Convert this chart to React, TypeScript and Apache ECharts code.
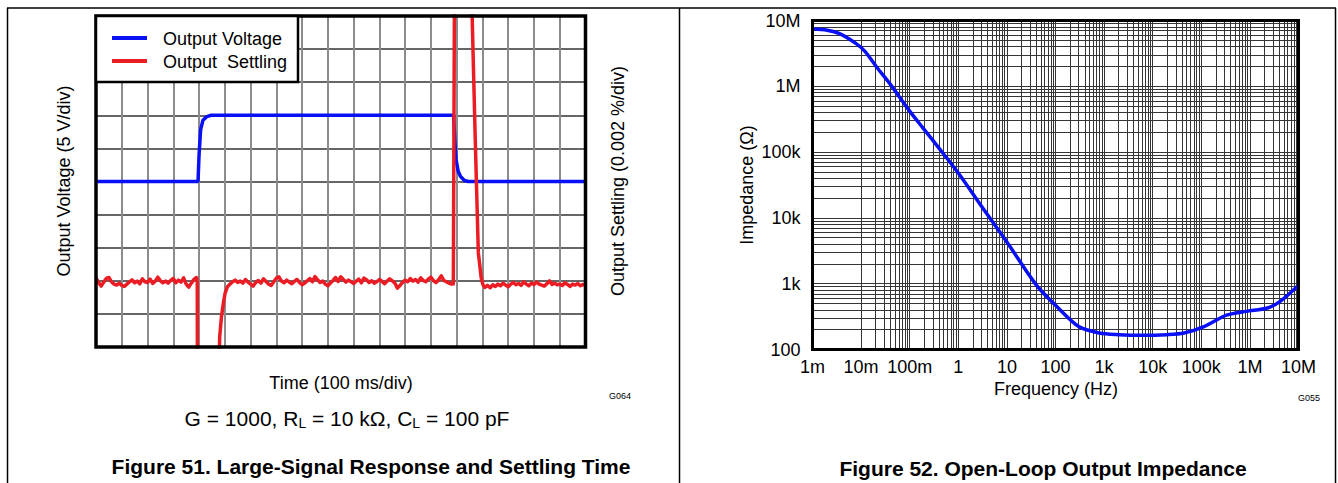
import React, { useEffect, useRef } from 'react';
import * as echarts from 'echarts';

const FONT = '"Liberation Sans", Arial, Helvetica, sans-serif';

// ---------- Figure 51 (values in screen divisions: x = 100 ms/div, y = 5 V/div or 0.002 %/div)
const voltageTime = [0, 3.96, 4.0, 4.06, 4.15, 4.3, 4.47, 13.88, 13.93, 13.98, 14.06, 14.15, 14.3, 14.45, 19];
const voltageDiv = [5, 5, 5.8, 6.56, 6.85, 6.96, 7, 7, 6.2, 5.65, 5.3, 5.15, 5.03, 5, 5];

const noiseStep = 0.1;
const settlingNoiseAStart = 0;
const settlingNoiseA = [2.08, 1.95, 1.84, 1.96, 2.07, 2.1, 1.97, 1.9, 1.87, 1.93, 1.86, 1.83, 1.9, 1.97, 2.03, 1.94, 1.99, 1.91, 2.06, 1.97, 1.95, 2.05, 1.92, 1.99, 2.11, 2.0, 1.94, 1.99, 1.93, 2.01, 2.07, 1.94, 2.02, 1.96, 2.09, 1.9, 1.81, 1.93, 2.04, 2.1];
const settlingDropTime = [3.93, 3.94, 4.74, 4.8, 4.87, 4.95, 5.01, 5.1];
const settlingDropDiv = [2.0, -2, -2, 0.3, 0.92, 1.35, 1.62, 1.82];
const settlingNoiseBStart = 5.2;
const settlingNoiseB = [1.9, 1.97, 2.02, 1.95, 1.99, 1.93, 2.04, 1.96, 1.9, 1.84, 1.95, 2.01, 1.93, 2.06, 1.98, 1.9, 1.86, 1.97, 2.08, 2.12, 1.99, 1.94, 2.02, 1.96, 1.91, 1.98, 2.04, 1.95, 1.88, 1.93, 2.0, 2.07, 1.97, 2.13, 2.03, 1.95, 1.99, 1.9, 1.85, 1.93, 2.01, 2.1, 1.98, 2.12, 2.04, 1.96, 2.02, 1.97, 1.92, 1.99, 2.05, 1.94, 2.08, 2.03, 1.95, 2.0, 1.93, 1.97, 2.04, 1.98, 1.91, 1.99, 2.06, 2.0, 1.93, 1.78, 1.86, 1.95, 2.02, 1.97, 2.07, 1.99, 2.04, 1.96, 2.09, 2.01, 1.97, 2.05, 2.11, 2.0, 1.95, 2.03, 2.15, 2.01, 1.97, 1.93, 1.9];
const settlingSpikeTime = [13.87, 13.92, 14.57, 14.6, 14.72, 14.84, 14.95, 15.02];
const settlingSpikeDiv = [1.9, 12, 12, 10, 6.3, 2.85, 2.1, 1.88];
const settlingNoiseCStart = 15.1;
const settlingNoiseC = [1.8, 1.86, 1.79, 1.88, 1.83, 1.9, 1.85, 1.93, 1.87, 1.82, 1.9, 1.95, 1.88, 1.92, 1.86, 1.97, 1.9, 1.85, 1.93, 1.89, 1.96, 1.9, 1.87, 1.84, 1.91, 2.0, 1.89, 1.93, 1.88, 1.9, 1.86, 1.94, 1.89, 1.83, 1.9, 1.87, 1.92, 1.85, 1.89, 1.86];

// ---------- Figure 52
const freqHz = [0.001, 0.002, 0.0036, 0.0079, 0.012, 0.021, 0.039, 0.1, 0.19, 0.4, 1, 3, 10, 40, 100, 300, 800, 2000, 5900, 20000, 44000, 117000, 320000, 850000, 2300000, 4200000, 10000000];
const impedanceOhm = [7400000, 7100000, 6300000, 4450000, 3400000, 1950000, 1100000, 420000, 230000, 115000, 48000, 15000, 4300, 960, 470, 223, 178, 168, 164, 168, 178, 225, 330, 380, 427, 540, 950];
const freqTickLabels = ['1m', '10m', '100m', '1', '10', '100', '1k', '10k', '100k', '1M', '10M'];
const impTickLabels = ['100', '1k', '10k', '100k', '1M', '10M'];

function noisePairs(start: number, vals: number[]) {
  return vals.map((v, i) => [+(start + i * noiseStep).toFixed(3), v]);
}

function buildOption() {
  const voltageData = voltageTime.map((t, i) => [t, voltageDiv[i]]);
  const settlingData = [
    ...noisePairs(settlingNoiseAStart, settlingNoiseA),
    ...settlingDropTime.map((t, i) => [t, settlingDropDiv[i]]),
    ...noisePairs(settlingNoiseBStart, settlingNoiseB),
    ...settlingSpikeTime.map((t, i) => [t, settlingSpikeDiv[i]]),
    ...noisePairs(settlingNoiseCStart, settlingNoiseC),
  ];
  const impData = freqHz.map((f, i) => [f, impedanceOhm[i]]);

  const xGrid: any[] = [];
  for (let e = -3; e <= 6; e++) for (let m = 1; m <= 9; m++) xGrid.push({ xAxis: m * Math.pow(10, e) });
  xGrid.push({ xAxis: 1e7 });
  const yGrid: any[] = [];
  for (let e = 2; e <= 6; e++) for (let m = 1; m <= 9; m++) yGrid.push({ yAxis: m * Math.pow(10, e) });
  yGrid.push({ yAxis: 1e7 });

  const txt = (x: number, y: number, text: string, size: number, extra: any = {}, rot = 0) => ({
    type: 'text', x, y, rotation: rot, z: 80,
    style: { text, fill: '#000', fontSize: size, fontFamily: FONT, align: 'center', verticalAlign: 'middle', ...extra },
  });
  const ln = (x1: number, y1: number, x2: number, y2: number, w = 1.5) => ({
    type: 'line', z: 80, shape: { x1, y1, x2, y2 }, style: { stroke: '#000', lineWidth: w },
  });

  return {
    animation: false,
    backgroundColor: '#fff',
    grid: [
      { left: 96, top: 16, width: 489.5, height: 331, containLabel: false, outerBoundsMode: 'none' },
      { left: 812.5, top: 20.5, width: 486, height: 329, containLabel: false, outerBoundsMode: 'none' },
    ],
    xAxis: [
      {
        gridIndex: 0, type: 'value', min: 0, max: 19, interval: 1,
        axisLine: { show: false }, axisTick: { show: false }, axisLabel: { show: false },
        splitLine: { show: true, lineStyle: { color: '#8c8c8c', width: 2 } },
      },
      {
        gridIndex: 1, type: 'log', logBase: 10, min: 0.001, max: 1e7, interval: 1,
        axisLine: { show: false }, axisTick: { show: false }, splitLine: { show: false },
        axisLabel: {
          show: true, margin: 8, color: '#000', fontSize: 18, fontFamily: FONT,
          formatter: (v: number) => freqTickLabels[Math.round(Math.log10(v)) + 3] ?? '',
        },
      },
    ],
    yAxis: [
      {
        gridIndex: 0, type: 'value', min: 0, max: 10, interval: 1,
        axisLine: { show: false }, axisTick: { show: false }, axisLabel: { show: false },
        splitLine: { show: true, lineStyle: { color: '#333', width: 1.5 } },
      },
      {
        gridIndex: 1, type: 'log', logBase: 10, min: 100, max: 1e7, interval: 1,
        axisLine: { show: false }, axisTick: { show: false }, splitLine: { show: false },
        axisLabel: {
          show: true, margin: 12, color: '#000', fontSize: 18, fontFamily: FONT,
          formatter: (v: number) => impTickLabels[Math.round(Math.log10(v)) - 2] ?? '',
        },
      },
    ],
    series: [
      {
        name: 'Output Voltage', type: 'line', xAxisIndex: 0, yAxisIndex: 0, data: voltageData,
        showSymbol: false, symbol: 'none', z: 5, clip: true,
        lineStyle: { color: '#0a10f5', width: 3.5 },
      },
      {
        name: 'Output Settling', type: 'line', xAxisIndex: 0, yAxisIndex: 0, data: settlingData,
        showSymbol: false, symbol: 'none', z: 6, clip: true,
        lineStyle: { color: '#ec1c24', width: 3.5, join: 'round' },
      },
      {
        name: 'grid', type: 'line', xAxisIndex: 1, yAxisIndex: 1, data: [], z: 1, silent: true,
        markLine: {
          silent: true, symbol: ['none', 'none'], label: { show: false },
          lineStyle: { color: '#353535', width: 1, type: 'solid' },
          data: [...xGrid, ...yGrid],
        },
      },
      {
        name: 'Impedance', type: 'line', xAxisIndex: 1, yAxisIndex: 1, data: impData,
        showSymbol: false, symbol: 'none', smooth: 0.3, z: 5, clip: true,
        lineStyle: { color: '#0a10f5', width: 3.5 },
      },
    ],
    graphic: [
      // page borders
      ln(7, 8, 1336, 8), ln(7.5, 8, 7.5, 483), ln(679.5, 8, 679.5, 483), ln(1335.5, 8, 1335.5, 483),
      // plot frames
      { type: 'rect', z: 70, shape: { x: 96, y: 16, width: 489.5, height: 331 }, style: { fill: 'none', stroke: '#000', lineWidth: 3.5 } },
      { type: 'rect', z: 70, shape: { x: 812.5, y: 20.5, width: 486, height: 329 }, style: { fill: 'none', stroke: '#000', lineWidth: 3 } },
      // legend
      { type: 'rect', z: 75, shape: { x: 96, y: 16, width: 202, height: 66 }, style: { fill: '#fff', stroke: '#000', lineWidth: 2.5 } },
      { type: 'line', z: 78, shape: { x1: 112, y1: 38, x2: 147, y2: 38 }, style: { stroke: '#0a10f5', lineWidth: 4 } },
      { type: 'line', z: 78, shape: { x1: 112, y1: 61, x2: 147, y2: 61 }, style: { stroke: '#ec1c24', lineWidth: 4 } },
      txt(163, 39, 'Output Voltage', 18, { align: 'left' }),
      txt(163, 62, 'Output  Settling', 18, { align: 'left' }),
      // left panel texts
      txt(64, 181, 'Output Voltage (5 V/div)', 18, {}, Math.PI / 2),
      txt(618, 181, 'Output Settling (0.002 %/div)', 18, {}, Math.PI / 2),
      txt(341, 383, 'Time (100 ms/div)', 18),
      txt(620, 396, 'G064', 9),
      {
        type: 'text', x: 347, y: 418, z: 80,
        style: {
          text: '{n|G = 1000, R}{s|L}{n| = 10 kΩ, C}{s|L}{n| = 100 pF}',
          align: 'center', verticalAlign: 'middle', fill: '#000',
          rich: {
            n: { fontSize: 21, fontFamily: FONT, lineHeight: 24, fill: '#000' },
            s: { fontSize: 14, fontFamily: FONT, lineHeight: 11, verticalAlign: 'bottom', fill: '#000' },
          },
        },
      },
      txt(371, 466, 'Figure 51. Large-Signal Response and Settling Time', 21, { fontWeight: 'bold' }),
      // right panel texts
      txt(747, 185, 'Impedance (Ω)', 18, {}, Math.PI / 2),
      txt(1056, 389, 'Frequency (Hz)', 18),
      txt(1309, 398, 'G055', 9),
      txt(1043, 468, 'Figure 52. Open-Loop Output Impedance', 21, { fontWeight: 'bold' }),
    ],
  };
}

export default function App() {
  const ref = useRef<HTMLDivElement>(null);
  useEffect(() => {
    if (!ref.current) return;
    const chart = echarts.init(ref.current, null, { renderer: 'svg', width: 1338, height: 483 });
    chart.setOption(buildOption() as any);
    return () => chart.dispose();
  }, []);
  return (
    <div
      ref={ref}
      style={{ position: 'absolute', left: 0, top: 0, width: 1338, height: 483, background: '#fff' }}
    />
  );
}
